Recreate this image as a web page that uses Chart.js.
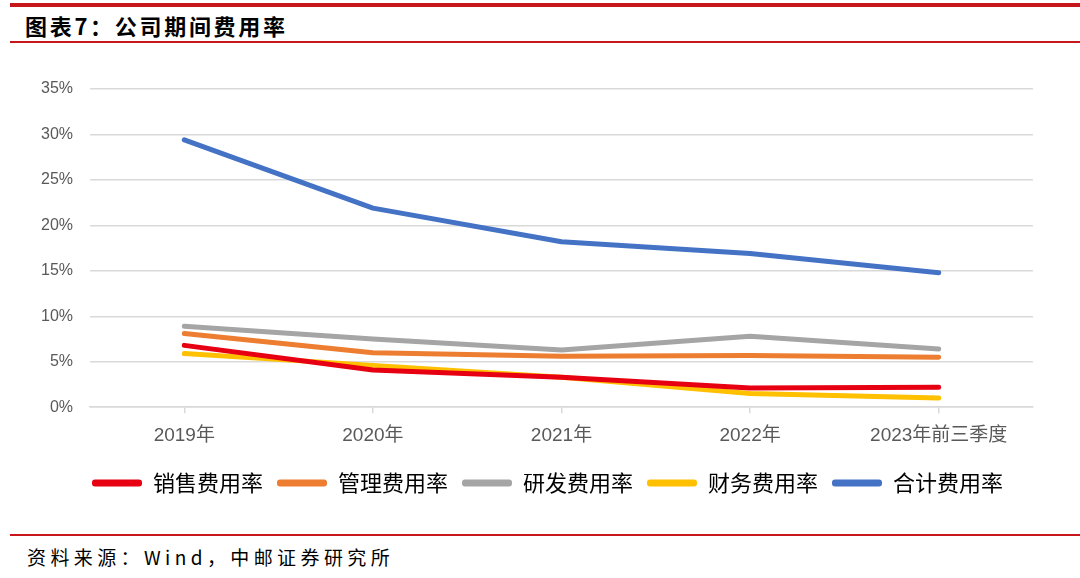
<!DOCTYPE html>
<html>
<head>
<meta charset="utf-8">
<script src="https://cdn.jsdelivr.net/npm/chart.js@4.4.1/dist/chart.umd.min.js"></script>
<style>
  html, body { margin: 0; padding: 0; background: #fff; }
  body { width: 1080px; height: 578px; position: relative; overflow: hidden; }
  .rule { position: absolute; left: 10px; right: 0; background: #c8161d; }
  .title {
    position: absolute; left: 25px; top: 9px;
    font-family: "Noto Sans CJK SC", sans-serif; font-weight: 700;
    font-size: 22px; letter-spacing: 2.7px; color: #000; line-height: 32px;
  }
  .source {
    position: absolute; left: 27px; top: 543px;
    font-family: "Noto Sans CJK SC", sans-serif;
    font-size: 19px; letter-spacing: 4.4px; color: #000; line-height: 28px;
  }
  .chart-box { position: absolute; left: 0; top: 60px; width: 1080px; height: 460px; }
</style>
</head>
<body>
<div class="rule" style="top:3px;height:4px;"></div>
<div class="title">图表7：公司期间费用率</div>
<div class="rule" style="top:41px;height:2px;"></div>
<div class="chart-box"><canvas id="costChart"></canvas></div>
<div class="rule" style="top:534px;height:2px;"></div>
<div class="source">资料来源：Wind，中邮证券研究所</div>

<script>
// 数据（单位：%）
const years = ['2019年', '2020年', '2021年', '2022年', '2023年前三季度'];
const salesRate   = [6.8, 4.1, 3.3, 2.1, 2.2];
const adminRate   = [8.1, 6.0, 5.6, 5.7, 5.5];
const rdRate      = [8.9, 7.5, 6.3, 7.8, 6.4];
const financeRate = [5.9, 4.6, 3.3, 1.5, 1.0];
const totalRate   = [29.4, 21.9, 18.2, 16.9, 14.8];
const yTicks = [0, 5, 10, 15, 20, 25, 30, 35];

const seriesList = [
  { label: '销售费用率', data: salesRate,   color: '#e60012' },
  { label: '管理费用率', data: adminRate,   color: '#ed7d31' },
  { label: '研发费用率', data: rdRate,      color: '#a5a5a5' },
  { label: '财务费用率', data: financeRate, color: '#ffc000' },
  { label: '合计费用率', data: totalRate,   color: '#4472c4' }
];

const datasets = seriesList.map(s => ({
  label: s.label,
  data: s.data,
  borderColor: s.color,
  backgroundColor: s.color,
  borderWidth: 5,
  pointRadius: 0,
  tension: 0,
  fill: false,
  borderCapStyle: 'round',
  borderJoinStyle: 'round'
}));

const axisFont = { family: "'Liberation Sans', 'Noto Sans CJK SC', sans-serif", size: 19 };

new Chart(document.getElementById('costChart').getContext('2d'), {
  type: 'line',
  data: { labels: years, datasets },
  options: {
    responsive: true,
    maintainAspectRatio: false,
    animation: false,
    // 左右留白让图例居中于 ~547px
    layout: { padding: { top: 29, right: 16, bottom: 16, left: 31 } },
    plugins: {
      tooltip: { enabled: false },
      legend: {
        position: 'bottom',
        labels: {
          boxWidth: 50,
          boxHeight: 7,
          padding: 14,
          color: '#000',
          useBorderRadius: true,
          borderRadius: 3,
          font: { family: "'Noto Sans CJK SC', sans-serif", size: 22 },
          generateLabels: chart => chart.data.datasets.map((ds, i) => ({
            text: ds.label,
            fillStyle: ds.borderColor,
            strokeStyle: ds.borderColor,
            lineWidth: 0,
            hidden: false,
            datasetIndex: i,
            borderRadius: 3
          }))
        }
      }
    },
    scales: {
      x: {
        offset: true,
        grid: {
          display: true,
          drawOnChartArea: false,
          drawTicks: true,
          tickLength: 6,
          color: '#d9d9d9',
          lineWidth: 1.5
        },
        border: { display: true, color: '#d9d9d9', width: 1.5 },
        ticks: { color: '#595959', font: axisFont, padding: 11, maxRotation: 0 }
      },
      y: {
        min: 0,
        max: 35,
        afterFit: scale => { scale.width = 59; },
        afterBuildTicks: scale => { scale.ticks = yTicks.map(v => ({ value: v })); },
        grid: { color: '#d9d9d9', lineWidth: 1.5, drawTicks: false },
        border: { display: false },
        ticks: {
          color: '#595959',
          padding: 17,
          font: { family: "'Liberation Sans', sans-serif", size: 16 },
          callback: v => v + '%'
        }
      },
      // 空白右轴，只占位
      yPad: {
        position: 'right',
        display: true,
        afterFit: scale => { scale.width = 31; },
        grid: { display: false },
        border: { display: false },
        ticks: { display: false }
      }
    }
  }
});
</script>
</body>
</html>
